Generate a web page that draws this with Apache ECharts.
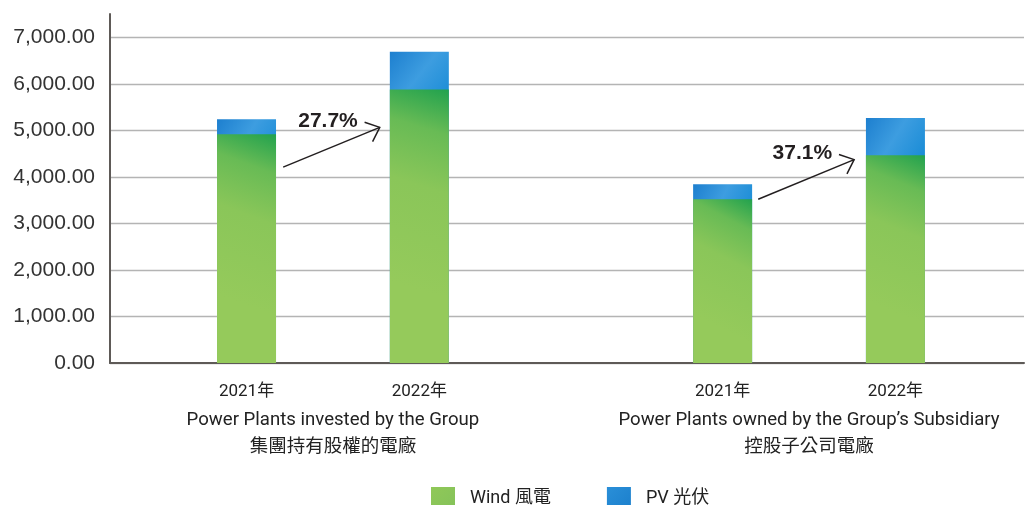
<!DOCTYPE html>
<html>
<head>
<meta charset="utf-8">
<script src="https://cdn.jsdelivr.net/npm/echarts@6/dist/echarts.min.js"></script>
<style>html,body{margin:0;padding:0;background:#fff}#c{width:1025px;height:505px}</style>
</head>
<body>
<div id="c"></div>
<script>
// ---- data ----
const yearLabels = ['2021年', '2022年', '2021年', '2022年'];
const groupLabelsEn = ['Power Plants invested by the Group', 'Power Plants owned by the Group\u2019s Subsidiary'];
const groupLabelsZh = ['集團持有股權的電廠', '控股子公司電廠'];
const windValues = [4914, 5880, 3520, 4464];
const pvValues = [322, 810, 321, 801];
const growthLabels = ['27.7%', '37.1%'];
// arrow anchors [xStart, yStart, xEnd, yEnd] in axis units
const arrowAnchors = [[1.002, 4210, 1.561, 5064], [3.751, 3520, 4.306, 4370]];
const yTicks = [0, 1000, 2000, 3000, 4000, 5000, 6000, 7000];

// ---- layout (axis positions of bars) ----
const barPos = [0.79, 1.79, 3.545, 4.545];
const groupCenter = [1.29, 4.045];
const X_MAX = 5.289;

const nearestIdx = (arr, v) => {
  let best = 0;
  arr.forEach((a, i) => { if (Math.abs(a - v) < Math.abs(arr[best] - v)) best = i; });
  return best;
};

const latin = 'Roboto, "Noto Sans CJK TC", sans-serif';
const chart = echarts.init(document.getElementById('c'), null, {renderer: 'canvas'});

const windColor = new echarts.graphic.LinearGradient(1, 0, 0, 0.7, [
  {offset: 0, color: '#22a24e'},
  {offset: 0.22, color: '#68bb55'},
  {offset: 0.5, color: '#8ac659'},
  {offset: 1, color: '#95ca5b'}
]);
const pvColor = new echarts.graphic.LinearGradient(0, 0, 1, 0.15, [
  {offset: 0, color: '#1d7fcf'},
  {offset: 0.5, color: '#3d9de0'},
  {offset: 1, color: '#1a8cd6'}
]);

chart.setOption({
  animation: false,
  grid: {left: 110, right: 1, top: 14, bottom: 142, containLabel: false},
  legend: {
    data: [
      {name: 'Wind 風電', itemStyle: {color: new echarts.graphic.LinearGradient(0, 0, 1, 1, [{offset: 0, color: '#90c858'}, {offset: 1, color: '#84c25a'}])}},
      {name: 'PV 光伏', itemStyle: {color: new echarts.graphic.LinearGradient(0, 0, 1, 1, [{offset: 0, color: '#2a8fd8'}, {offset: 1, color: '#1b7fcc'}])}}
    ],
    left: 426, top: 482,
    itemWidth: 24, itemHeight: 23, itemGap: 56,
    icon: 'rect',
    textStyle: {fontSize: 18, color: '#222', fontFamily: latin, padding: [0, 0, 0, 10]}
  },
  xAxis: [{
    type: 'value', min: 0, max: X_MAX, position: 'bottom',
    axisLine: {show: true, lineStyle: {color: '#5e5a57', width: 2}},
    axisTick: {show: false},
    splitLine: {show: false},
    axisLabel: {
      customValues: barPos, margin: 20, fontSize: 17, color: '#222', fontFamily: latin,
      formatter: (v) => yearLabels[nearestIdx(barPos, v)]
    }
  }, {
    type: 'value', min: 0, max: X_MAX, position: 'bottom',
    axisLine: {show: false}, axisTick: {show: false}, splitLine: {show: false},
    axisLabel: {
      customValues: groupCenter, margin: 45,
      formatter: (v) => {
        const i = nearestIdx(groupCenter, v);
        return '{a|' + groupLabelsEn[i] + '}\n{b|' + groupLabelsZh[i] + '}';
      },
      rich: {
        a: {fontSize: 18.6, color: '#222', fontFamily: latin, lineHeight: 24, align: 'center'},
        b: {fontSize: 18.5, color: '#222', fontFamily: '"Noto Sans CJK TC", sans-serif', lineHeight: 26, align: 'center'}
      }
    }
  }],
  yAxis: {
    type: 'value', min: 0, max: 7500, interval: 1000,
    axisLine: {show: true, lineStyle: {color: '#5e5a57', width: 2}},
    axisTick: {show: false},
    splitLine: {show: true, showMaxLine: false, lineStyle: {color: '#b4b4b4', width: 1.3}},
    axisLabel: {
      showMaxLabel: false, margin: 15, fontSize: 21, color: '#333',
      fontFamily: '"Liberation Sans", Arial, sans-serif',
      formatter: v => yTicks.indexOf(v) < 0 ? '' : v.toLocaleString('en-US', {minimumFractionDigits: 2, maximumFractionDigits: 2})
    }
  },
  series: [{
    // PV segment sits on top of wind: drawn as a full-height bar behind the wind bar
    name: 'PV 光伏', type: 'bar', barWidth: 59, barGap: '-100%',
    itemStyle: {color: pvColor},
    data: pvValues.map((v, i) => [barPos[i], windValues[i] + v])
  }, {
    name: 'Wind 風電', type: 'bar', barWidth: 59, barGap: '-100%',
    itemStyle: {color: windColor},
    data: windValues.map((v, i) => [barPos[i], v])
  }, {
    type: 'custom', name: 'growth', clip: false, silent: true,
    encode: {x: [0, 2], y: [1, 3]},
    data: arrowAnchors.map((a, i) => [a[0], a[1], a[2], a[3], i]),
    renderItem: function (params, api) {
      const p1 = api.coord([api.value(0), api.value(1)]);
      const p2 = api.coord([api.value(2), api.value(3)]);
      const idx = api.value(4);
      const dx = p2[0] - p1[0], dy = p2[1] - p1[1];
      const len = Math.sqrt(dx * dx + dy * dy);
      const ux = -dx / len, uy = -dy / len;
      const L = 16, ang = 41 * Math.PI / 180;
      const rot = (a) => [p2[0] + L * (ux * Math.cos(a) - uy * Math.sin(a)), p2[1] + L * (ux * Math.sin(a) + uy * Math.cos(a))];
      const a1 = rot(ang), a2 = rot(-ang);
      const st = {stroke: '#231f20', lineWidth: 1.5, fill: null};
      return {
        type: 'group',
        children: [
          {type: 'line', shape: {x1: p1[0], y1: p1[1], x2: p2[0], y2: p2[1]}, style: st},
          {type: 'polyline', shape: {points: [a1, p2, a2]}, style: st},
          {type: 'text', x: p2[0] - 22, y: p2[1] - 6,
           style: {text: growthLabels[idx], fontSize: 21, fontWeight: 'bold', fill: '#231f20',
                   fontFamily: '"Liberation Sans", Arial, sans-serif', align: 'right', verticalAlign: 'middle'}}
        ]
      };
    }
  }]
});
</script>
</body>
</html>
